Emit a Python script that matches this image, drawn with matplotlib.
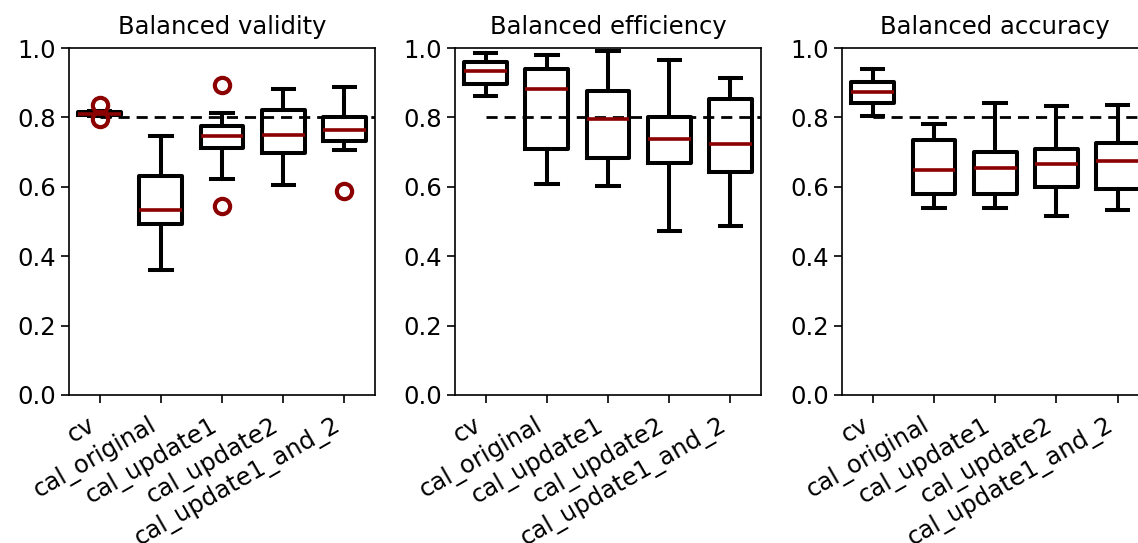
import matplotlib
matplotlib.use("Agg")
import matplotlib.pyplot as plt

categories = ["cv", "cal_original", "cal_update1", "cal_update2", "cal_update1_and_2"]
titles = ["Balanced validity", "Balanced efficiency", "Balanced accuracy"]
target = 0.8

# stats per panel: (whislo, q1, med, q3, whishi, fliers)
validity = [
    (0.803, 0.806, 0.811, 0.815, 0.818, [0.836, 0.796]),
    (0.359, 0.492, 0.533, 0.632, 0.745, []),
    (0.623, 0.712, 0.747, 0.776, 0.814, [0.892, 0.545]),
    (0.604, 0.697, 0.749, 0.822, 0.882, []),
    (0.707, 0.733, 0.763, 0.801, 0.887, [0.588]),
]
efficiency = [
    (0.861, 0.896, 0.934, 0.961, 0.986, []),
    (0.609, 0.710, 0.882, 0.939, 0.981, []),
    (0.601, 0.683, 0.795, 0.875, 0.992, []),
    (0.473, 0.670, 0.738, 0.800, 0.964, []),
    (0.487, 0.644, 0.722, 0.852, 0.913, []),
]
accuracy = [
    (0.805, 0.841, 0.872, 0.902, 0.940, []),
    (0.539, 0.580, 0.647, 0.736, 0.782, []),
    (0.538, 0.578, 0.653, 0.699, 0.841, []),
    (0.516, 0.599, 0.665, 0.710, 0.832, []),
    (0.532, 0.593, 0.673, 0.726, 0.837, []),
]
panels = [validity, efficiency, accuracy]

plt.rcParams["font.family"] = ["DejaVu Sans"]
fs = 17.5
plt.rcParams["font.size"] = fs

fig = plt.figure(figsize=(11.38, 5.43), dpi=100)
lefts = [0.0606, 0.3998, 0.740]
w, b, h = 0.269, 0.2726, 0.639

lw = 2.9
for i, (stats, title) in enumerate(zip(panels, titles)):
    ax = fig.add_axes([lefts[i], b, w, h])
    bxp = []
    for cat, (lo, q1, med, q3, hi, fl) in zip(categories, stats):
        bxp.append(dict(label=cat, whislo=lo, q1=q1, med=med, q3=q3, whishi=hi, fliers=fl))
    ax.bxp(bxp, positions=range(1, 6), widths=0.7,
           boxprops=dict(color="black", linewidth=lw),
           whiskerprops=dict(color="black", linewidth=lw),
           capprops=dict(color="black", linewidth=lw),
           medianprops=dict(color="#8b0000", linewidth=2.6),
           flierprops=dict(marker="o", markerfacecolor="none", markeredgecolor="#8b0000",
                           markersize=11, markeredgewidth=3.0))
    ax.plot([1, 5.5], [target, target], linestyle="--", color="black", linewidth=2.0,
            dashes=(4, 2.5), zorder=0.5)
    ax.set_xlim(0.5, 5.5)
    ax.set_ylim(0.0, 1.0)
    ax.set_yticks([0.0, 0.2, 0.4, 0.6, 0.8, 1.0])
    ax.set_xticks(range(1, 6))
    ax.set_xticklabels(categories, rotation=30, ha="right")
    ax.set_title(title, fontsize=fs, pad=10)
    for s in ax.spines.values():
        s.set_linewidth(1.2)
    ax.tick_params(width=1.2, length=6, labelsize=fs)
    ax.tick_params(axis="x", pad=7)

fig.savefig("out.png", dpi=100)
